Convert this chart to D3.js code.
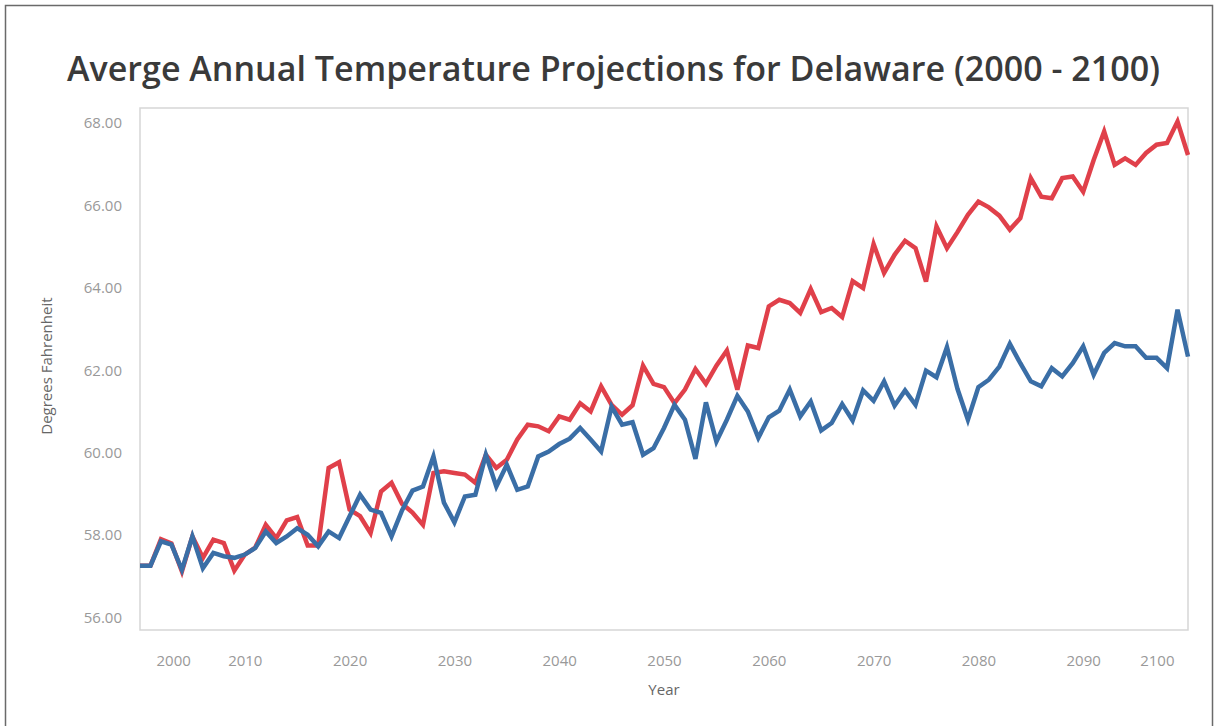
<!DOCTYPE html>
<html>
<head>
<meta charset="utf-8">
<script src="https://cdn.jsdelivr.net/npm/d3@7/dist/d3.min.js"></script>
<style>
  body { margin: 0; background: #fff; }
  svg { display: block; font-family: 'Open Sans', sans-serif; }
</style>
</head>
<body>
<div id="chart"></div>
<script>

var years = [
  2000, 2001, 2002, 2003, 2004, 2005, 2006, 2007, 2008, 2009,
  2010, 2011, 2012, 2013, 2014, 2015, 2016, 2017, 2018, 2019,
  2020, 2021, 2022, 2023, 2024, 2025, 2026, 2027, 2028, 2029,
  2030, 2031, 2032, 2033, 2034, 2035, 2036, 2037, 2038, 2039,
  2040, 2041, 2042, 2043, 2044, 2045, 2046, 2047, 2048, 2049,
  2050, 2051, 2052, 2053, 2054, 2055, 2056, 2057, 2058, 2059,
  2060, 2061, 2062, 2063, 2064, 2065, 2066, 2067, 2068, 2069,
  2070, 2071, 2072, 2073, 2074, 2075, 2076, 2077, 2078, 2079,
  2080, 2081, 2082, 2083, 2084, 2085, 2086, 2087, 2088, 2089,
  2090, 2091, 2092, 2093, 2094, 2095, 2096, 2097, 2098, 2099,
  2100
];

// higher emissions projection
var highTemps = [
  57.26, 57.26, 57.90, 57.80, 57.12, 57.97, 57.45, 57.89, 57.81, 57.14,
  57.53, 57.70, 58.25, 57.93, 58.36, 58.44, 57.75, 57.75, 59.63, 59.77,
  58.62, 58.46, 58.05, 59.06, 59.27, 58.76, 58.55, 58.25, 59.51, 59.55,
  59.51, 59.47, 59.27, 59.95, 59.63, 59.83, 60.32, 60.68, 60.64, 60.52,
  60.88, 60.80, 61.20, 61.00, 61.61, 61.16, 60.92, 61.15, 62.11, 61.67,
  61.59, 61.20, 61.53, 62.03, 61.67, 62.11, 62.48, 61.53, 62.60, 62.54,
  63.55, 63.71, 63.63, 63.39, 63.97, 63.41, 63.51, 63.29, 64.16, 63.99,
  65.06, 64.36, 64.80, 65.14, 64.96, 64.15, 65.49, 64.96, 65.35, 65.77,
  66.09, 65.95, 65.75, 65.41, 65.69, 66.66, 66.21, 66.17, 66.66, 66.70,
  66.33, 67.10, 67.79, 66.98, 67.14, 66.98, 67.27, 67.47, 67.51, 68.03,
  67.22
];

// lower emissions projection
var lowTemps = [
  57.26, 57.26, 57.85, 57.77, 57.16, 57.97, 57.20, 57.57, 57.49, 57.45,
  57.53, 57.69, 58.09, 57.81, 57.97, 58.17, 58.01, 57.73, 58.09, 57.93,
  58.46, 58.98, 58.62, 58.54, 57.97, 58.60, 59.08, 59.18, 59.91, 58.79,
  58.31, 58.94, 58.98, 59.95, 59.18, 59.71, 59.10, 59.18, 59.91, 60.03,
  60.21, 60.34, 60.60, 60.32, 60.03, 61.12, 60.68, 60.74, 59.95, 60.11,
  60.60, 61.16, 60.80, 59.85, 61.22, 60.27, 60.80, 61.38, 61.00, 60.36,
  60.86, 61.02, 61.53, 60.88, 61.24, 60.54, 60.72, 61.18, 60.78, 61.51,
  61.26, 61.73, 61.14, 61.51, 61.16, 61.99, 61.83, 62.56, 61.55, 60.80,
  61.59, 61.77, 62.09, 62.64, 62.17, 61.73, 61.61, 62.05, 61.85, 62.17,
  62.58, 61.89, 62.42, 62.66, 62.58, 62.58, 62.30, 62.30, 62.05, 63.47,
  62.33
];

var yTicks = [56, 58, 60, 62, 64, 66, 68];
var xTicks = [2000, 2010, 2020, 2030, 2040, 2050, 2060, 2070, 2080, 2090, 2100];

var seriesColors = ['#e0404a', '#3a6ea6'];

var TempChart = function () {

  function draw() {

    var W = 1215, H = 726;
    var margin = { top: 108, right: 27, bottom: 96, left: 140 };
    var width = W - margin.left - margin.right;
    var height = H - margin.top - margin.bottom;

    var svg = d3.select('#chart')
      .append('svg')
        .attr('width', W)
        .attr('height', H);

    // outer frame of the screenshot
    svg.append('rect')
        .attr('x', 5.5)
        .attr('y', 5.5)
        .attr('width', W - 8)
        .attr('height', H + 10)
        .attr('fill', '#fff')
        .attr('stroke', '#6a6a6a')
        .attr('stroke-width', 1.5);

    svg.append('text')
        .attr('x', 67)
        .attr('y', 81)
        .attr('fill', '#3a3a3a')
        .attr('font-size', 34)
        .attr('font-weight', 600)
        .attr('textLength', 1093)
        .attr('lengthAdjust', 'spacingAndGlyphs')
        .text('Averge Annual Temperature Projections for Delaware (2000 - 2100)');

    var g = svg.append('g')
        .attr('transform', 'translate(' + margin.left + ',' + margin.top + ')');

    var x = d3.scaleLinear()
      .domain([2000, 2100])
      .range([0, width]);

    var y = d3.scaleLinear()
      .domain([55.7, 68.36])
      .range([height, 0]);

    g.append('rect')
        .attr('x', 0)
        .attr('y', 0)
        .attr('width', width)
        .attr('height', height)
        .attr('fill', '#fff')
        .attr('stroke', '#d6d6d6')
        .attr('stroke-width', 1.5);

    var yAxis = g.append('g')
        .call(d3.axisLeft(y)
          .tickValues(yTicks)
          .tickSize(0)
          .tickPadding(18)
          .tickFormat(d3.format('.2f'))
        );

    var xAxis = g.append('g')
        .attr('transform', 'translate(0,' + height + ')')
        .call(d3.axisBottom(x)
          .tickValues(xTicks)
          .tickSize(0)
          .tickPadding(25)
          .tickFormat(d3.format('d'))
        );

    [yAxis, xAxis].forEach(function (a) {
      a.select('.domain').remove();
      a.selectAll('text')
          .attr('fill', '#999')
          .attr('font-size', 15)
          .attr('font-family', "'Open Sans', sans-serif");
    });

    // first and last year labels sit inside the plot edges
    xAxis.selectAll('.tick text')
        .attr('text-anchor', function (d) {
          return d === 2000 ? 'start' : d === 2100 ? 'end' : 'middle';
        })
        .attr('dx', function (d) {
          return d === 2000 ? 16 : d === 2100 ? -14 : 0;
        });

    g.append('text')
        .attr('transform', 'translate(' + (52 - margin.left) + ',' + (y(62.1)) + ') rotate(-90)')
        .attr('text-anchor', 'middle')
        .attr('fill', '#666')
        .attr('font-size', 15)
        .text('Degrees Fahrenheit');

    g.append('text')
        .attr('x', x(2050))
        .attr('y', height + 65)
        .attr('text-anchor', 'middle')
        .attr('fill', '#666')
        .attr('font-size', 15)
        .text('Year');

    var line = d3.line()
        .x(function (d) { return x(d.year); })
        .y(function (d) { return y(d.temp); });

    var series = [highTemps, lowTemps].map(function (temps, k) {
      return {
        color: seriesColors[k],
        values: years.map(function (yr, i) { return { year: yr, temp: temps[i] }; })
      };
    });

    g.selectAll('.series')
        .data(series)
        .enter()
      .append('path')
        .attr('class', 'series')
        .attr('fill', 'none')
        .attr('stroke', function (d) { return d.color; })
        .attr('stroke-width', 4.5)
        .attr('stroke-linejoin', 'miter')
        .attr('d', function (d) { return line(d.values); });
  }

  return { draw: draw };
};

TempChart().draw();
</script>
</body>
</html>
